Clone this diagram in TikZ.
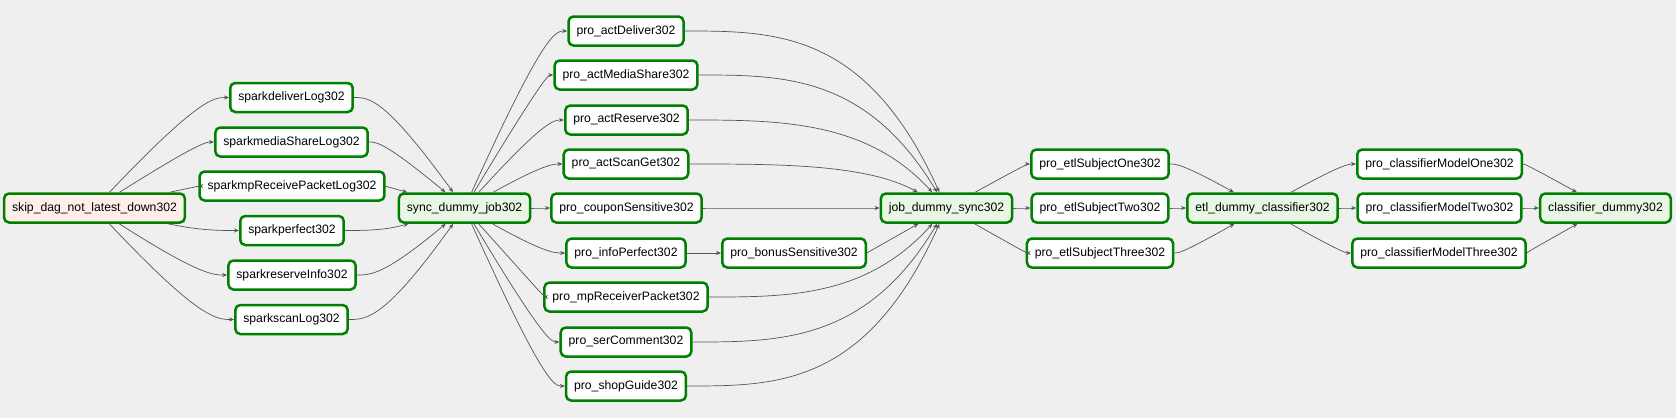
\documentclass[tikz,border=0pt]{standalone}
\usepackage{fontspec}
\setmainfont{Liberation Sans}
\usetikzlibrary{calc,arrows.meta}
\definecolor{bg}{HTML}{EFEFEF}
\definecolor{okgreen}{HTML}{008000}
\definecolor{dummyfill}{HTML}{E8F7E4}
\definecolor{pyfill}{HTML}{FFEFEB}
\definecolor{edgecol}{HTML}{555555}
\tikzset{
 task/.style={draw=okgreen, line width=2.5pt, rounded corners=5pt, fill=white, minimum height=29pt, inner xsep=8pt, inner ysep=0pt, font=\fontsize{12.2}{14}\selectfont, text=black},
 dummy/.style={task, fill=dummyfill},
 pytask/.style={task, fill=pyfill},
 edge/.style={draw=edgecol, line width=0.7pt, -{Stealth[length=5pt,width=4pt]}}
}
\newcommand\fanout[3]{%
  \coordinate (fk) at ($(#1.center |- #2.west)+(#3,0)$);
  \draw[edge] (#1) .. controls (fk) and ($(#2.west)!0.5!(fk)$) .. (#2);}
\newcommand\fanin[3]{%
  \coordinate (fk) at ($(#2.center |- #1.east)+(-#3,0)$);
  \draw[edge] (#1) .. controls ($(#1.east)!0.5!(fk)$) and (fk) .. (#2);}
\begin{document}
\begin{tikzpicture}[x=1pt,y=-1pt]
\fill[bg] (0,0) rectangle (1676,418);
\useasboundingbox (0,0) rectangle (1676,418);
% nodes
\node[pytask] (skip) at (94.5,208) {skip\_dag\_not\_latest\_down302};
\node[task] (sdl) at (291.5,97.5) {sparkdeliverLog302};
\node[task] (smsl) at (291.5,142) {sparkmediaShareLog302};
\node[task] (smrp) at (292,186) {sparkmpReceivePacketLog302};
\node[task] (sp) at (292,230.5) {sparkperfect302};
\node[task] (sri) at (292,275) {sparkreserveInfo302};
\node[task] (ssl) at (291.5,319.5) {sparkscanLog302};
\node[dummy] (sync) at (464.5,208) {sync\_dummy\_job302};
\node[task] (pad) at (626,31) {pro\_actDeliver302};
\node[task] (pams) at (626,75) {pro\_actMediaShare302};
\node[task] (par) at (626.5,120) {pro\_actReserve302};
\node[task] (pasg) at (626,164) {pro\_actScanGet302};
\node[task] (pcs) at (626.5,208) {pro\_couponSensitive302};
\node[task] (pip) at (626,253) {pro\_infoPerfect302};
\node[task] (pmrp) at (626,297) {pro\_mpReceiverPacket302};
\node[task] (psc) at (626,342) {pro\_serComment302};
\node[task] (psg) at (626,386) {pro\_shopGuide302};
\node[task] (pbs) at (794,253) {pro\_bonusSensitive302};
\node[dummy] (job) at (946.5,208) {job\_dummy\_sync302};
\node[task] (eone) at (1100,164) {pro\_etlSubjectOne302};
\node[task] (etwo) at (1100,208) {pro\_etlSubjectTwo302};
\node[task] (ethree) at (1100,253) {pro\_etlSubjectThree302};
\node[dummy] (etl) at (1262.5,208) {etl\_dummy\_classifier302};
\node[task] (cone) at (1439.5,164) {pro\_classifierModelOne302};
\node[task] (ctwo) at (1439.5,208) {pro\_classifierModelTwo302};
\node[task] (cthree) at (1439,253) {pro\_classifierModelThree302};
\node[dummy] (cd) at (1605.5,208) {classifier\_dummy302};
% edges
\foreach \t in {sdl,smsl,smrp,sp,sri,ssl} {\fanout{skip}{\t}{105}}
\foreach \s in {sdl,smsl,smrp,sp,sri,ssl} {\fanin{\s}{sync}{80}}
\foreach \t in {pad,pams,par,pasg,pcs,pip,pmrp,psc,psg} {\fanout{sync}{\t}{80}}
\draw[edge] (pip) -- (pbs);
\foreach \s in {pad,pams,par,pasg,pcs,pbs,pmrp,psc,psg} {\fanin{\s}{job}{80}}
\foreach \t in {eone,etwo,ethree} {\fanout{job}{\t}{80}}
\foreach \s in {eone,etwo,ethree} {\fanin{\s}{etl}{80}}
\foreach \t in {cone,ctwo,cthree} {\fanout{etl}{\t}{80}}
\foreach \s in {cone,ctwo,cthree} {\fanin{\s}{cd}{80}}
\end{tikzpicture}
\end{document}
